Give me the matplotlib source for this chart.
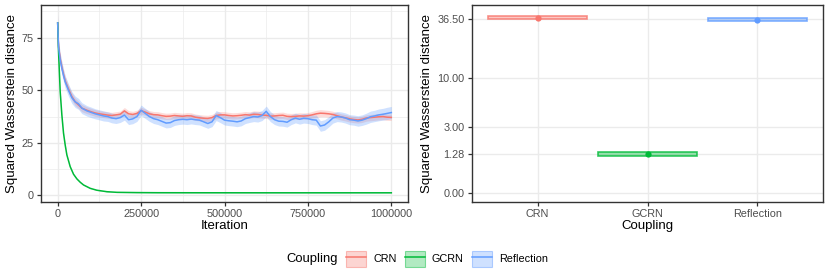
import matplotlib
matplotlib.use("Agg")
import matplotlib.pyplot as plt
import numpy as np
from matplotlib.colors import to_rgba
from matplotlib.patches import Patch
from matplotlib.lines import Line2D

plt.rcParams['font.family'] = ['Liberation Sans', 'DejaVu Sans']

# ---- left panel: squared W2 distance along the chain ----
iteration = [0, 2500, 7500, 12500, 17500, 22500, 32500, 42500, 52500, 62500, 72500, 87500] \
    + list(range(100000, 1000001, 12500))

crn_w2 = [82.0, 71.0, 65.0, 61.0, 57.5, 54.5, 50.5, 47.0, 44.5, 43.0, 41.5, 40.5,
          39.8, 39.2, 38.8, 38.5, 38.2, 38.0, 38.3, 38.6, 40.2, 38.8, 38.5, 39.0,
          40.3, 39.6, 38.8, 38.4, 38.3, 37.9, 37.6, 37.7, 38.0, 37.8, 37.6, 37.9,
          37.8, 37.2, 36.9, 36.7, 36.6, 37.0, 38.0, 38.3, 38.3, 38.0, 37.8, 37.9,
          38.1, 38.4, 38.2, 38.6, 38.5, 38.2, 38.1, 37.7, 37.8, 38.0, 38.1, 37.6,
          37.5, 37.6, 37.8, 37.7, 37.9, 38.3, 38.8, 39.1, 39.0, 38.8, 38.5, 37.9,
          37.3, 36.9, 36.4, 36.1, 35.9, 36.2, 36.8, 37.0, 37.2, 37.4, 37.5, 37.2,
          37.1]
crn_se = [3.6, 2.2, 2.2, 2.1, 2.0, 2.0, 1.9, 1.8, 1.8, 1.7, 1.7, 1.6,
          1.6, 1.6, 1.5, 1.5, 1.5, 1.5, 1.5, 1.5, 1.6, 1.5, 1.5, 1.5,
          1.6, 1.5, 1.5, 1.5, 1.5, 1.5, 1.5, 1.5, 1.5, 1.5, 1.5, 1.5,
          1.5, 1.5, 1.5, 1.5, 1.5, 1.5, 1.6, 1.6, 1.5, 1.5, 1.5, 1.5,
          1.5, 1.5, 1.5, 1.6, 1.6, 1.5, 1.5, 1.5, 1.5, 1.5, 1.5, 1.5,
          1.5, 1.5, 1.5, 1.5, 1.5, 1.6, 1.7, 1.7, 1.6, 1.6, 1.5, 1.5,
          1.5, 1.5, 1.5, 1.5, 1.5, 1.5, 1.5, 1.5, 1.5, 1.5, 1.5, 1.5,
          1.5]

refl_w2 = [82.0, 70.5, 64.5, 60.5, 57.0, 54.0, 50.0, 46.5, 44.5, 43.5, 41.5, 40.2,
           39.5, 38.8, 38.3, 37.8, 37.5, 36.8, 36.5, 37.0, 38.2, 36.0, 36.4, 37.5,
           40.5, 39.0, 37.5, 36.5, 36.0, 35.2, 34.4, 34.6, 35.6, 36.0, 36.2, 36.0,
           36.3, 36.0, 35.8, 35.0, 34.2, 35.0, 38.0, 37.0, 35.8, 35.5, 35.3, 35.0,
           35.4, 36.5, 37.0, 37.5, 37.3, 38.0, 40.0, 37.5, 36.0, 35.3, 35.2, 34.8,
           36.0, 36.8, 36.2, 36.7, 36.5, 36.0, 35.8, 33.0, 33.5, 35.0, 36.8, 37.5,
           37.3, 36.8, 36.0, 35.8, 35.4, 35.8, 36.5, 37.4, 37.8, 38.3, 38.6, 39.0,
           39.4]
refl_se = [4.2, 3.2, 3.2, 3.1, 3.0, 3.0, 2.9, 2.8, 2.7, 2.6, 2.6, 2.5,
           2.5, 2.4, 2.4, 2.4, 2.3, 2.3, 2.3, 2.3, 2.4, 2.3, 2.3, 2.3,
           2.5, 2.4, 2.3, 2.3, 2.3, 2.3, 2.3, 2.3, 2.3, 2.3, 2.3, 2.3,
           2.3, 2.3, 2.3, 2.3, 2.3, 2.3, 2.4, 2.4, 2.3, 2.3, 2.3, 2.3,
           2.3, 2.3, 2.3, 2.4, 2.4, 2.4, 2.5, 2.4, 2.3, 2.3, 2.3, 2.3,
           2.3, 2.3, 2.3, 2.3, 2.3, 2.3, 2.4, 2.5, 2.5, 2.4, 2.4, 2.4,
           2.4, 2.4, 2.4, 2.4, 2.5, 2.5, 2.6, 2.7, 2.7, 2.8, 2.8, 2.9,
           2.9]

gcrn_iteration = [0, 2500, 7500, 12500, 17500, 22500, 27500, 37500, 47500, 57500,
                  67500, 77500, 97500, 117500, 147500, 177500, 237500, 300000,
                  400000, 500000, 600000, 700000, 800000, 900000, 1000000]
gcrn_w2 = [82.0, 68.5, 49.4, 38.3, 29.6, 24.0, 19.3, 13.7, 10.1, 7.9,
           6.3, 5.0, 3.4, 2.5, 1.8, 1.5, 1.38, 1.32,
           1.30, 1.29, 1.28, 1.28, 1.28, 1.28, 1.28]
gcrn_se = [0.3, 0.4, 0.4, 0.3, 0.3, 0.3, 0.2, 0.2, 0.2, 0.1,
           0.1, 0.1, 0.1, 0.1, 0.1, 0.1, 0.08, 0.08,
           0.08, 0.08, 0.08, 0.08, 0.08, 0.08, 0.08]

x_ticks = [0, 250000, 500000, 750000, 1000000]
y_ticks = [0, 25, 50, 75]

# ---- right panel: final distance per coupling ----
couplings = ['CRN', 'GCRN', 'Reflection']
final_mean = [37.5, 1.28, 35.8]
final_lo = [36.5, 1.19, 34.7]
final_hi = [38.4, 1.35, 37.0]
final_ticks = [0.0, 1.28, 3.0, 10.0, 36.5]

colors = {'CRN': '#F8766D', 'GCRN': '#00BA38', 'Reflection': '#619CFF'}

grid_col = '#EBEBEB'
border_col = '#333333'
tick_col = '#4D4D4D'


def style_axes(ax):
    for s in ax.spines.values():
        s.set_color(border_col)
        s.set_linewidth(1.0)
    ax.tick_params(which='major', length=3, width=0.9, color=border_col,
                   labelsize=7.8, labelcolor=tick_col, pad=2)
    ax.tick_params(which='minor', length=0)
    ax.set_axisbelow(True)


fig = plt.figure(figsize=(8.3, 2.76), dpi=100)
ax1 = fig.add_axes([41 / 830, 74.3 / 276, 367 / 830, 196.7 / 276])
ax2 = fig.add_axes([471.7 / 830, 74.3 / 276, 351.6 / 830, 196.7 / 276])

# left panel
series = [('CRN', iteration, crn_w2, crn_se, 0.25),
          ('GCRN', gcrn_iteration, gcrn_w2, gcrn_se, 0.3),
          ('Reflection', iteration, refl_w2, refl_se, 0.3)]
for name, xs, ys, se, a in series:
    xs = np.array(xs)
    ys = np.array(ys)
    se = np.array(se)
    ax1.fill_between(xs, ys - se, ys + se, color=colors[name], alpha=a, lw=0)
for name, xs, ys, se, a in series:
    ax1.plot(xs, ys, color=colors[name], lw=1.1)

ax1.set_xlim(-50000, 1050000)
ax1.set_ylim(-2.95, 90.5)
ax1.set_xticks(x_ticks)
ax1.set_xticklabels([str(v) for v in x_ticks])
ax1.set_yticks(y_ticks)
ax1.set_xticks([125000, 375000, 625000, 875000], minor=True)
ax1.set_yticks([12.5, 37.5, 62.5, 87.5], minor=True)
ax1.grid(which='major', color=grid_col, lw=1.0)
ax1.grid(which='minor', color=grid_col, lw=0.5)
ax1.set_xlabel('Iteration', fontsize=9.5, labelpad=1)
ax1.set_ylabel('Squared Wasserstein distance', fontsize=9.5, labelpad=3)
style_axes(ax1)

# right panel
ax2.set_yscale('function', functions=(np.log1p, np.expm1))
pos = np.arange(len(couplings))
for i, name in enumerate(couplings):
    c = colors[name]
    ax2.bar(pos[i], final_hi[i] - final_lo[i], bottom=final_lo[i], width=0.9,
            facecolor=to_rgba(c, 0.4), edgecolor=to_rgba(c, 0.8), linewidth=1.2)
    ax2.plot(pos[i], final_mean[i], 'o', color=c, ms=4.5, mec='none')

ax2.set_xlim(-0.6, 2.6)
ax2.set_ylim(-0.16, 49.0)
ax2.set_xticks(pos)
ax2.set_xticklabels(couplings)
ax2.set_yticks(final_ticks)
ax2.set_yticklabels([f'{v:.2f}' for v in final_ticks])
ax2.minorticks_off()
ax2.grid(which='major', color=grid_col, lw=1.0)
ax2.set_xlabel('Coupling', fontsize=9.5, labelpad=1)
ax2.set_ylabel('Squared Wasserstein distance', fontsize=9.5, labelpad=3)
style_axes(ax2)

# legend at the bottom
handles = []
for name in couplings:
    c = colors[name]
    handles.append((Patch(facecolor=to_rgba(c, 0.3), edgecolor=to_rgba(c, 0.45), lw=0.8),
                    Line2D([], [], color=c, lw=1.1)))
fig.text(286.7 / 830, 1 - 259 / 276, 'Coupling', fontsize=9.4, va='center', ha='left')
fig.legend(handles, couplings, loc='center left', bbox_to_anchor=(346 / 830, 1 - 259 / 276),
           ncol=3, frameon=False, fontsize=7.8, handlelength=1.85, handleheight=1.85,
           handletextpad=0.65, columnspacing=0.75, borderpad=0, borderaxespad=0)

fig.savefig('out.png', dpi=100)
